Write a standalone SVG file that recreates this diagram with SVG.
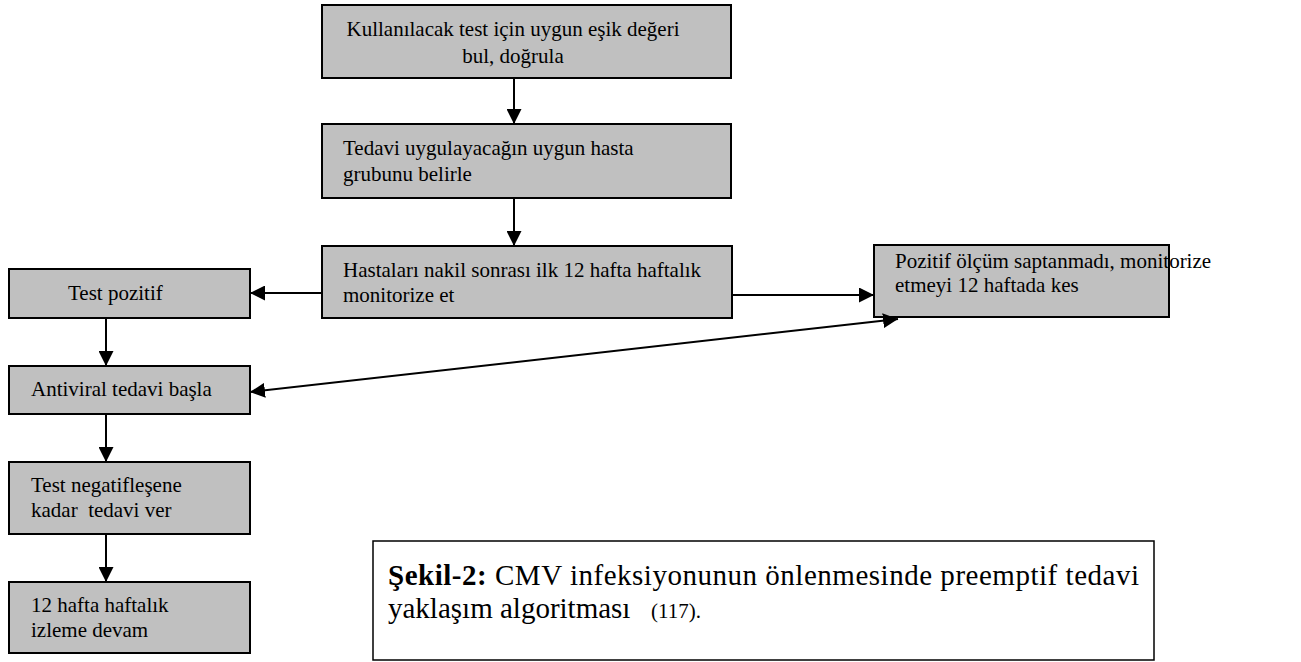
<svg xmlns="http://www.w3.org/2000/svg" width="1301" height="662" viewBox="0 0 1301 662">
<defs>
<style>
.box{fill:#c0c0c0;stroke:#000;stroke-width:2}
.t{font-family:"Liberation Serif","Times New Roman",serif;font-size:21px;fill:#000}
.cap{font-family:"Liberation Serif","Times New Roman",serif;font-size:29px;fill:#000}
.con{stroke:#000;stroke-width:2;fill:none}
</style>
<marker id="ah" markerUnits="userSpaceOnUse" markerWidth="15" markerHeight="15" refX="15" refY="7.5" orient="auto-start-reverse" viewBox="0 0 15 15">
<path d="M0,0 L15,7.5 L0,15 z" fill="#000"/>
</marker>
</defs>
<rect width="1301" height="662" fill="#fff"/>
<g id="n1">
<rect class="box" x="322" y="5" width="409" height="73"/>
<text class="t" x="513" y="36" text-anchor="middle">Kullanılacak test için uygun eşik değeri</text>
<text class="t" x="513" y="63" text-anchor="middle">bul, doğrula</text>
</g>
<g id="n2">
<rect class="box" x="322" y="124" width="409" height="74"/>
<text class="t" x="343" y="155">Tedavi uygulayacağın uygun hasta</text>
<text class="t" x="343" y="181">grubunu belirle</text>
</g>
<g id="n3">
<rect class="box" x="322" y="246" width="410" height="72"/>
<text class="t" x="343" y="277">Hastaları nakil sonrası ilk 12 hafta haftalık</text>
<text class="t" x="343" y="302">monitorize et</text>
</g>
<g id="n4">
<rect class="box" x="874" y="245" width="295" height="72"/>
<text class="t" x="895" y="268">Pozitif ölçüm saptanmadı, monitorize</text>
<text class="t" x="895" y="292">etmeyi 12 haftada kes</text>
</g>
<g id="n5">
<rect class="box" x="9" y="269" width="241" height="49"/>
<text class="t" x="68" y="300">Test pozitif</text>
</g>
<g id="n6">
<rect class="box" x="9" y="366" width="241" height="48"/>
<text class="t" x="31" y="396">Antiviral tedavi başla</text>
</g>
<g id="n7">
<rect class="box" x="9" y="462" width="241" height="72"/>
<text class="t" x="31" y="492">Test negatifleşene</text>
<text class="t" x="31" y="517" xml:space="preserve">kadar  tedavi ver</text>
</g>
<g id="n8">
<rect class="box" x="9" y="582" width="241" height="71"/>
<text class="t" x="31" y="612">12 hafta haftalık</text>
<text class="t" x="31" y="637">izleme devam</text>
</g>
<g id="caption">
<rect x="373" y="541" width="781" height="119" fill="none" stroke="#000" stroke-width="1.5"/>
<text class="cap" x="388" y="585" textLength="751" lengthAdjust="spacing"><tspan font-weight="bold">Şekil-2:</tspan> CMV infeksiyonunun önlenmesinde preemptif tedavi</text>
<text class="cap" x="388" y="618">yaklaşım algoritması</text>
<text class="t" x="651" y="618">(117).</text>
</g>
<g id="connectors">
<line class="con" x1="514" y1="78" x2="514" y2="124" marker-end="url(#ah)"/>
<line class="con" x1="514" y1="198" x2="514" y2="246" marker-end="url(#ah)"/>
<line class="con" x1="322" y1="293" x2="250" y2="293" marker-end="url(#ah)"/>
<line class="con" x1="732" y1="295" x2="874" y2="295" marker-end="url(#ah)"/>
<line class="con" x1="106" y1="318" x2="106" y2="366" marker-end="url(#ah)"/>
<line class="con" x1="250" y1="392" x2="898" y2="319" marker-start="url(#ah)" marker-end="url(#ah)"/>
<line class="con" x1="106" y1="414" x2="106" y2="462" marker-end="url(#ah)"/>
<line class="con" x1="106" y1="534" x2="106" y2="582" marker-end="url(#ah)"/>
</g>
</svg>
